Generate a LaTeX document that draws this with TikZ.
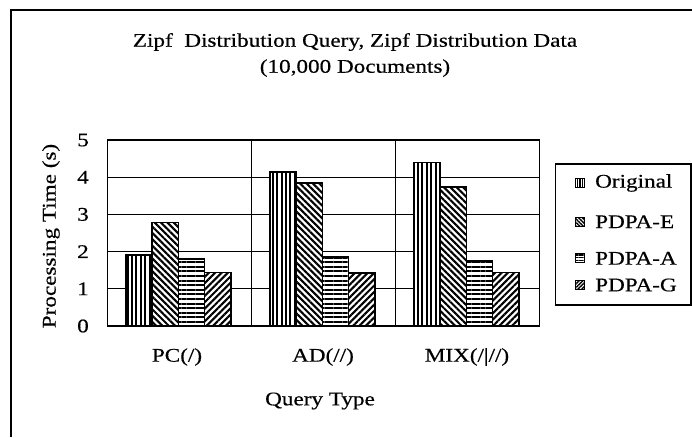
\documentclass[tikz,border=0pt]{standalone}
\usepackage{fontspec}
\setmainfont{Liberation Serif}[FakeStretch=1.2,FakeBold=0.4]
\usetikzlibrary{patterns.meta}
\tikzset{
  lbl/.style={font=\fontsize{19.3}{26}\selectfont, inner sep=0pt},
  frameline/.style={line width=1.5pt},
  gridline/.style={line width=1.3pt},
  barbox/.style={draw=black, line width=1.5pt, preaction={fill=white}},
  % hatch styles of the four series (bars)
  pOrig/.style={pattern={Lines[angle=90,distance=4.4pt,line width=2.1pt]}},
  pE/.style={pattern={Lines[angle=-45,distance=4.5pt,line width=2.1pt]}},
  pA/.style={pattern={Lines[angle=0,distance=4.6pt,line width=2.1pt]}},
  pG/.style={pattern={Lines[angle=45,distance=4.5pt,line width=2.1pt]}},
  % hatch styles of the legend swatches
  sOrig/.style={pattern={Lines[angle=90,distance=2.6pt,line width=1.4pt]}},
  sE/.style={pattern={Lines[angle=-45,distance=2.6pt,line width=1.4pt]}},
  sA/.style={pattern={Lines[angle=0,distance=2.6pt,line width=1.4pt]}},
  sG/.style={pattern={Lines[angle=45,distance=2.6pt,line width=1.4pt]}},
}
\begin{document}
\begin{tikzpicture}[x=1pt,y=-1pt]
\useasboundingbox (0,0) rectangle (692,437);
\fill[white] (0,0) rectangle (692,437);

% chart area frame (left and top edges)
\draw[frameline] (11,437) -- (11,10) -- (692,10);

% title
\node[lbl, align=center] (title) at (355,55)
  {Zipf\ \ Distribution Query, Zipf Distribution Data\\(10,000 Documents)};

% axis titles
\node[lbl, rotate=90] (ytitle) at (51,236) {Processing Time (s)};
\node[lbl] (xtitle) at (320,401) {Query Type};

% plot area: x in px from the left edge, y in seconds
\begin{scope}[shift={(107.7,326)}, y=37.2pt]
  \foreach \v in {1,2,3,4}
    \draw[gridline] (0,\v) -- (432,\v);
  \foreach \v in {0,...,5}
    \node[lbl] (tick\v) at (-24.7,\v) {\v};

  % bars: one group per query type
  \foreach \v/\s [count=\j from 0] in {1.91/pOrig,2.78/pE,1.80/pA,1.44/pG}
    \draw[barbox,\s] ({18.3+26.2*\j},0) rectangle ({18.3+26.2*(\j+1)},\v);
  \foreach \v/\s [count=\j from 0] in {4.14/pOrig,3.84/pE,1.85/pA,1.43/pG}
    \draw[barbox,\s] ({144+18.3+26.2*\j},0) rectangle ({144+18.3+26.2*(\j+1)},\v);
  \foreach \v/\s [count=\j from 0] in {4.39/pOrig,3.74/pE,1.75/pA,1.44/pG}
    \draw[barbox,\s] ({288+18.3+26.2*\j},0) rectangle ({288+18.3+26.2*(\j+1)},\v);

  % plot frame and group dividers
  \draw[gridline] (0,0) rectangle (432,5);
  \draw[gridline] (144,0) -- (144,5);
  \draw[gridline] (288,0) -- (288,5);
\end{scope}

% category labels
\node[lbl] (catPC) at (177,357) {PC(/)};
\node[lbl] (catAD) at (323,357) {AD(//)};
\node[lbl] (catMIX) at (467,357) {MIX(/|//)};

% legend
\draw[gridline] (555.7,164) rectangle (691,305);
\foreach \y/\s/\t [count=\k] in {183/sOrig/Original,221.7/sE/PDPA-E,258.3/sA/PDPA-A,285/sG/PDPA-G}{
  \draw[line width=1.2pt, preaction={fill=white}, \s] (575.5,\y-4.5) rectangle (584.5,\y+4.5);
  \node[lbl, anchor=west] (leg\k) at (595,\y) {\t};
}
\end{tikzpicture}
\end{document}
